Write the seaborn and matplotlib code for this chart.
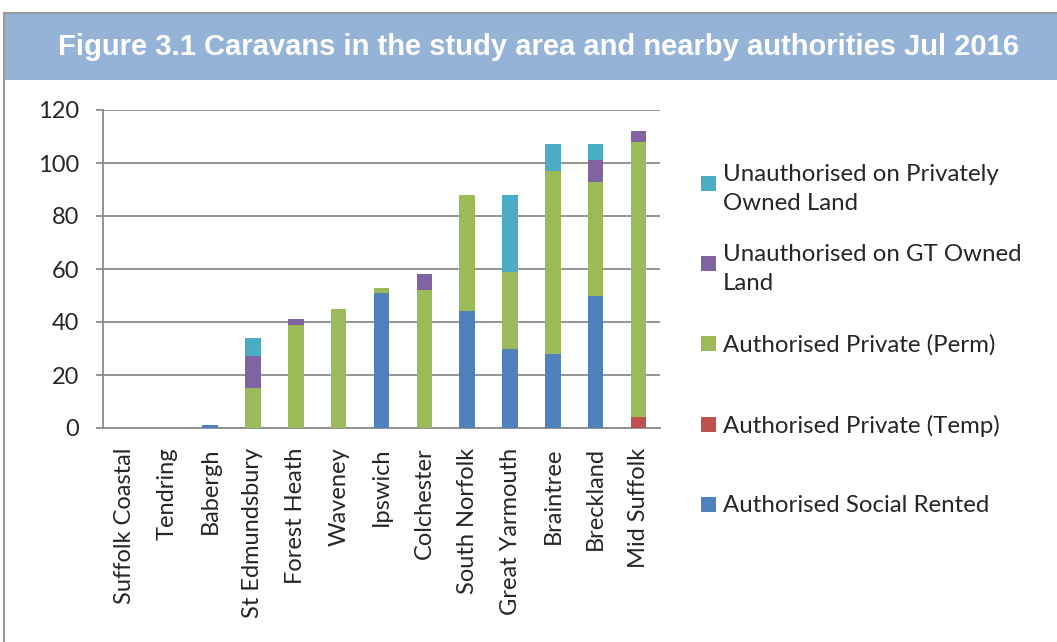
import matplotlib.pyplot as plt
import numpy   as np
import pandas  as pd
import seaborn as sns

from matplotlib.patches import Rectangle
from matplotlib.lines   import Line2D

# Data
areas = ['Suffolk Coastal', 'Tendring', 'Babergh', 'St Edmundsbury', 'Forest Heath',
         'Waveney', 'Ipswich', 'Colchester', 'South Norfolk', 'Great Yarmouth',
         'Braintree', 'Breckland', 'Mid Suffolk']

social_rented = [0, 0, 1,  0,  0,  0, 51,  0, 44, 30, 28, 50,   0]
private_temp  = [0, 0, 0,  0,  0,  0,  0,  0,  0,  0,  0,  0,   4]
private_perm  = [0, 0, 0, 15, 39, 45,  2, 52, 44, 29, 69, 43, 104]
unauth_gt     = [0, 0, 0, 12,  2,  0,  0,  6,  0,  0,  0,  8,   4]
unauth_priv   = [0, 0, 0,  7,  0,  0,  0,  0,  0, 29, 10,  6,   0]

series_names  = ['Authorised Social Rented', 'Authorised Private (Temp)',
                 'Authorised Private (Perm)', 'Unauthorised on GT Owned\nLand',
                 'Unauthorised on Privately\nOwned Land']
series_colors = ['#4F81BD', '#C0504D', '#9BBB59', '#8064A2', '#4BACC6']

title = 'Figure 3.1 Caravans in the study area and nearby authorities Jul 2016'

W, H = 1057, 642

def fx(px):
    return px / W

def fy(py):
    return 1 - py / H

# Stack the series (bottom to top) via cumulative totals
df = pd.DataFrame({'area' : areas,
                   's0'   : social_rented,
                   's1'   : private_temp,
                   's2'   : private_perm,
                   's3'   : unauth_gt,
                   's4'   : unauth_priv})
cum = df[['s0', 's1', 's2', 's3', 's4']].cumsum(axis = 1)

sns.set_style('white')
plt.rcParams['font.family'] = ['Lato', 'DejaVu Sans']

fig = plt.figure(figsize = (W / 100, H / 100), dpi = 100)
ax  = fig.add_axes([fx(103), fy(428), fx(660) - fx(103), fy(110) - fy(428)])

# Draw tallest first so lower segments sit on top
for i in reversed(range(5)):
    sns.barplot(x          = df['area'],
                y          = cum[f's{i}'],
                color      = series_colors[i],
                width      = 0.36,
                saturation = 1,
                linewidth  = 0,
                ax         = ax,
                zorder     = 3)

grid_c = '#8c8c8c'
ax.set_xlim(-0.5, len(areas) - 0.5)
ax.set_ylim(0, 120)
ax.set_yticks(np.arange(0, 121, 20))
ax.yaxis.grid(True, color = grid_c, linewidth = 1.3, zorder = 0)
ax.set_xlabel('')
ax.set_ylabel('')

ax.set_xticks(np.arange(len(areas)))
ax.set_xticklabels(areas, rotation = 90, fontsize = 17)
ax.tick_params(axis = 'x', length = 0, pad = 14)
ax.set_xticks(np.arange(-0.5, len(areas)), minor = True)
ax.tick_params(axis = 'x', which = 'minor', length = 5, width = 1.3, color = grid_c, direction = 'out')
ax.tick_params(axis = 'y', labelsize = 17, length = 5, width = 1.3, color = grid_c,
               direction = 'out', pad = 12, left = True)

for side in ['top', 'right']:
    ax.spines[side].set_visible(False)
for side in ['left', 'bottom']:
    ax.spines[side].set_color(grid_c)
    ax.spines[side].set_linewidth(1.3)

# Title banner and chart frame
fig.add_artist(Rectangle((fx(4), fy(80)), 1, fy(13) - fy(80), transform = fig.transFigure,
                         facecolor = '#95B3D7', edgecolor = 'none'))
fig.add_artist(Line2D([fx(4), 1], [fy(13), fy(13)], color = '#9a9a9a', linewidth = 1.5))
fig.add_artist(Line2D([fx(4), fx(4)], [fy(13), 0], color = '#9a9a9a', linewidth = 1.5))
fig.text(fx(539), fy(47), title, ha = 'center', va = 'center', color = 'white',
         fontsize = 21, fontweight = 'bold', family = ['Liberation Sans', 'DejaVu Sans'])

# Legend, top entry is the last stacked series
legend_y = [183, 263, 343, 424, 504]
for k, i in enumerate(reversed(range(5))):
    y = legend_y[k]
    fig.add_artist(Rectangle((fx(701), fy(y + 7.5)), fx(15), fy(0) - fy(15),
                             transform = fig.transFigure,
                             facecolor = series_colors[i], edgecolor = 'none'))
    fig.text(fx(723), fy(y), series_names[i], ha = 'left', va = 'center_baseline',
             fontsize = 17.3, linespacing = 1.5)

fig.savefig('out.png', dpi = 100)
